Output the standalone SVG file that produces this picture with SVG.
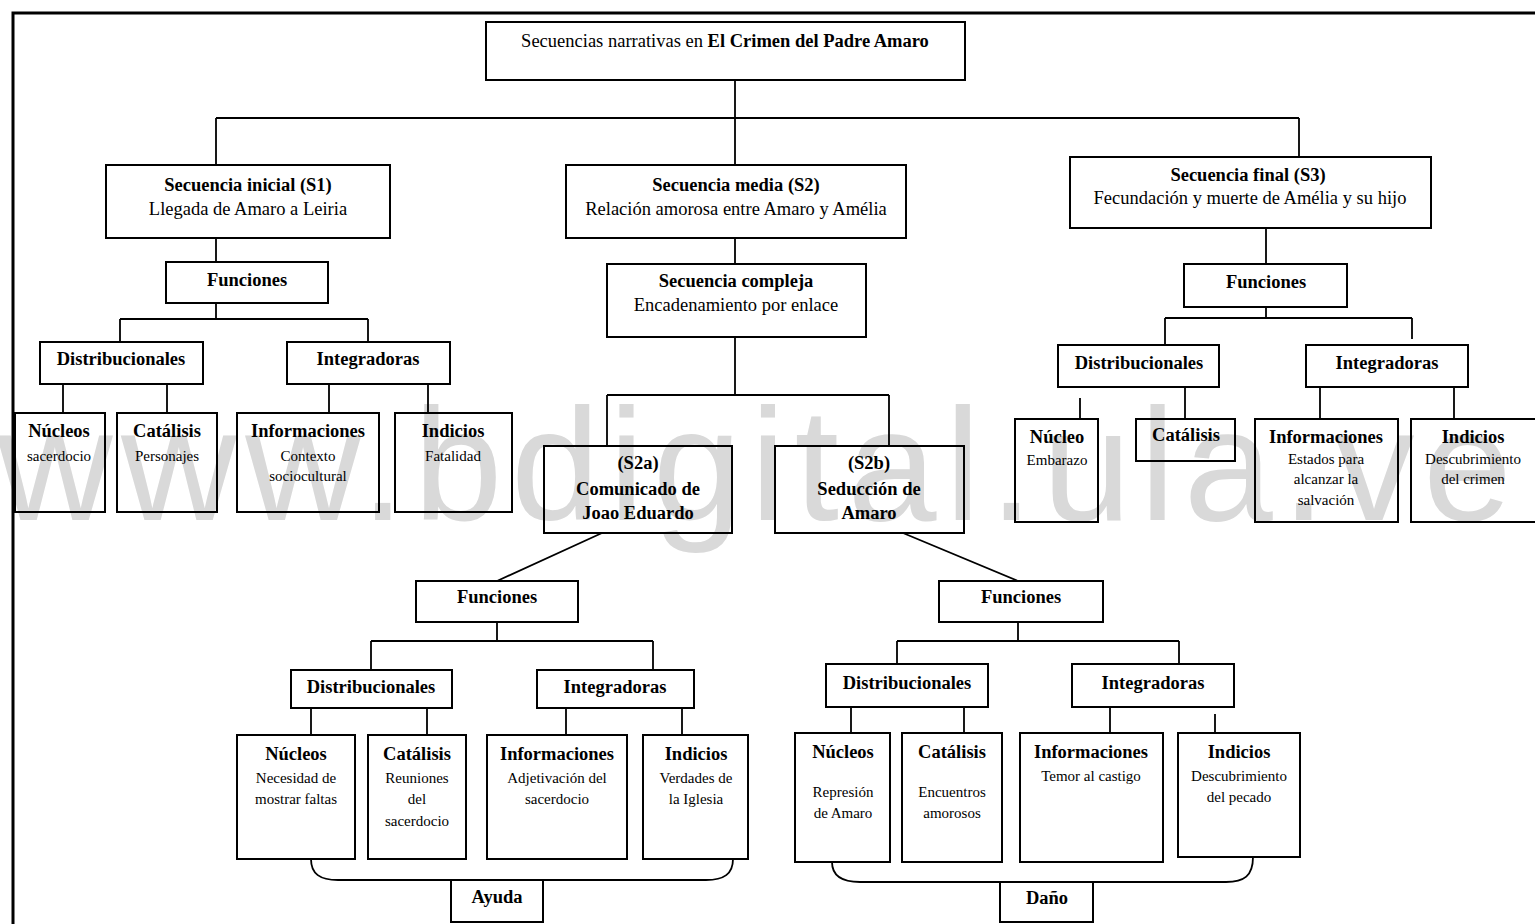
<svg xmlns="http://www.w3.org/2000/svg" width="1535" height="924" viewBox="0 0 1535 924">
<style>
.box{fill:none;stroke:#000;stroke-width:2}
.ln{fill:none;stroke:#000;stroke-width:1.8}
text{font-family:"Liberation Serif","Times New Roman",serif;text-anchor:middle;fill:#000}
.h{font-weight:bold;font-size:18.5px}
.m{font-size:18.5px}
.s{font-size:15px}
.wm{font-family:"Liberation Sans",Arial,sans-serif;font-size:160px;fill:#d9d9d9;text-anchor:start}
</style>
<rect x="0" y="0" width="1535" height="924" fill="#fff"/>
<text class="wm" x="-3" y="520" textLength="1515" lengthAdjust="spacing">www.bdigital.ula.ve</text>
<path d="M13,924 V13 H1535" fill="none" stroke="#000" stroke-width="3"/>
<g id="connectors">
<path class="ln" d="M735,80 V118 M216,118 H1299 M216,118 V165 M735,118 V165 M1299,118 V157"/>
<path class="ln" d="M216,238 V262 M216,303 V319 M120,319 H368 M120,319 V342 M368,319 V342 M63,384 V413 M167,384 V413 M329,384 V413 M428,384 V413"/>
<path class="ln" d="M735,238 V264 M735,337 V395 M607,395 H889 M607,395 V446 M889,395 V446 M602,533 L497,581 M903,533 L1018,581"/>
<path class="ln" d="M497,622 V641 M371,641 H653 M371,641 V670 M653,641 V670 M311,708 V735 M427,708 V735 M566,708 V735 M682,708 V735"/>
<path class="ln" d="M1018,622 V641 M897,641 H1179 M897,641 V664 M1179,641 V664 M851,707 V733 M964,707 V733 M1110,707 V733 M1215,714 V733"/>
<path class="ln" d="M1266,228 V264 M1266,307 V318 M1165,318 H1412 M1165,318 V345 M1412,318 V339 M1080,398 V419 M1185,387 V419 M1320,387 V419 M1454,387 V419"/>
<path class="ln" d="M311,859 C311,874 320,880 338,880 L706,880 C724,880 733,874 733,859"/>
<path class="ln" d="M832,862 C832,876 842,882 860,882 L1226,882 C1244,882 1253,876 1253,857"/>
</g>
<g id="title"><rect class="box" x="486" y="22" width="479" height="58"/><text class="m" x="725" y="47">Secuencias narrativas en <tspan font-weight="bold">El Crimen del Padre Amaro</tspan></text></g>
<g id="s1"><rect class="box" x="106" y="165" width="284" height="73"/><text class="h" x="248" y="191">Secuencia inicial (S1)</text><text class="m" x="248" y="215">Llegada de Amaro a Leiria</text></g>
<g id="s1-funciones"><rect class="box" x="166" y="262" width="162" height="41"/><text class="h" x="247" y="286">Funciones</text></g>
<g id="s1-distribucionales"><rect class="box" x="40" y="342" width="163" height="42"/><text class="h" x="121" y="365">Distribucionales</text></g>
<g id="s1-integradoras"><rect class="box" x="287" y="342" width="163" height="42"/><text class="h" x="368" y="365">Integradoras</text></g>
<g id="s1-nucleos"><rect class="box" x="15" y="413" width="90" height="99"/><text class="h" x="59" y="437">Núcleos</text><text class="s" x="59" y="461">sacerdocio</text></g>
<g id="s1-catalisis"><rect class="box" x="117" y="413" width="100" height="99"/><text class="h" x="167" y="437">Catálisis</text><text class="s" x="167" y="461">Personajes</text></g>
<g id="s1-informaciones"><rect class="box" x="237" y="413" width="142" height="99"/><text class="h" x="308" y="437">Informaciones</text><text class="s" x="308" y="461">Contexto</text><text class="s" x="308" y="481">sociocultural</text></g>
<g id="s1-indicios"><rect class="box" x="395" y="413" width="117" height="99"/><text class="h" x="453" y="437">Indicios</text><text class="s" x="453" y="461">Fatalidad</text></g>
<g id="s2"><rect class="box" x="566" y="165" width="340" height="73"/><text class="h" x="736" y="191">Secuencia media (S2)</text><text class="m" x="736" y="215">Relación amorosa entre Amaro y Amélia</text></g>
<g id="s2-compleja"><rect class="box" x="607" y="264" width="259" height="73"/><text class="h" x="736" y="287">Secuencia compleja</text><text class="m" x="736" y="311">Encadenamiento por enlace</text></g>
<g id="s2a"><rect class="box" x="544" y="446" width="188" height="87"/><text class="h" x="638" y="469">(S2a)</text><text class="h" x="638" y="495">Comunicado de</text><text class="h" x="638" y="519">Joao Eduardo</text></g>
<g id="s2b"><rect class="box" x="775" y="446" width="189" height="87"/><text class="h" x="869" y="469">(S2b)</text><text class="h" x="869" y="495">Seducción de</text><text class="h" x="869" y="519">Amaro</text></g>
<g id="s2a-funciones"><rect class="box" x="416" y="581" width="162" height="41"/><text class="h" x="497" y="603">Funciones</text></g>
<g id="s2a-distribucionales"><rect class="box" x="291" y="670" width="161" height="38"/><text class="h" x="371" y="693">Distribucionales</text></g>
<g id="s2a-integradoras"><rect class="box" x="537" y="670" width="157" height="38"/><text class="h" x="615" y="693">Integradoras</text></g>
<g id="s2a-nucleos"><rect class="box" x="237" y="735" width="118" height="124"/><text class="h" x="296" y="760">Núcleos</text><text class="s" x="296" y="783">Necesidad de</text><text class="s" x="296" y="804">mostrar faltas</text></g>
<g id="s2a-catalisis"><rect class="box" x="368" y="735" width="98" height="124"/><text class="h" x="417" y="760">Catálisis</text><text class="s" x="417" y="783">Reuniones</text><text class="s" x="417" y="804">del</text><text class="s" x="417" y="826">sacerdocio</text></g>
<g id="s2a-informaciones"><rect class="box" x="487" y="735" width="140" height="124"/><text class="h" x="557" y="760">Informaciones</text><text class="s" x="557" y="783">Adjetivación del</text><text class="s" x="557" y="804">sacerdocio</text></g>
<g id="s2a-indicios"><rect class="box" x="643" y="735" width="105" height="124"/><text class="h" x="696" y="760">Indicios</text><text class="s" x="696" y="783">Verdades de</text><text class="s" x="696" y="804">la Iglesia</text></g>
<g id="ayuda"><rect class="box" x="451" y="880" width="92" height="42"/><text class="h" x="497" y="903">Ayuda</text></g>
<g id="s2b-funciones"><rect class="box" x="939" y="581" width="164" height="41"/><text class="h" x="1021" y="603">Funciones</text></g>
<g id="s2b-distribucionales"><rect class="box" x="826" y="664" width="162" height="43"/><text class="h" x="907" y="689">Distribucionales</text></g>
<g id="s2b-integradoras"><rect class="box" x="1072" y="664" width="162" height="43"/><text class="h" x="1153" y="689">Integradoras</text></g>
<g id="s2b-nucleos"><rect class="box" x="795" y="733" width="95" height="129"/><text class="h" x="843" y="758">Núcleos</text><text class="s" x="843" y="797">Represión</text><text class="s" x="843" y="818">de Amaro</text></g>
<g id="s2b-catalisis"><rect class="box" x="902" y="733" width="100" height="129"/><text class="h" x="952" y="758">Catálisis</text><text class="s" x="952" y="797">Encuentros</text><text class="s" x="952" y="818">amorosos</text></g>
<g id="s2b-informaciones"><rect class="box" x="1020" y="733" width="143" height="129"/><text class="h" x="1091" y="758">Informaciones</text><text class="s" x="1091" y="781">Temor al castigo</text></g>
<g id="s2b-indicios"><rect class="box" x="1178" y="733" width="122" height="124"/><text class="h" x="1239" y="758">Indicios</text><text class="s" x="1239" y="781">Descubrimiento</text><text class="s" x="1239" y="802">del pecado</text></g>
<g id="dano"><rect class="box" x="1000" y="882" width="93" height="40"/><text class="h" x="1047" y="904">Daño</text></g>
<g id="s3"><rect class="box" x="1070" y="157" width="361" height="71"/><text class="h" x="1248" y="181">Secuencia final (S3)</text><text class="m" x="1250" y="204">Fecundación y muerte de Amélia y su hijo</text></g>
<g id="s3-funciones"><rect class="box" x="1184" y="264" width="163" height="43"/><text class="h" x="1266" y="288">Funciones</text></g>
<g id="s3-distribucionales"><rect class="box" x="1058" y="345" width="161" height="42"/><text class="h" x="1139" y="369">Distribucionales</text></g>
<g id="s3-integradoras"><rect class="box" x="1306" y="345" width="162" height="42"/><text class="h" x="1387" y="369">Integradoras</text></g>
<g id="s3-nucleo"><rect class="box" x="1015" y="419" width="83" height="103"/><text class="h" x="1057" y="443">Núcleo</text><text class="s" x="1057" y="465">Embarazo</text></g>
<g id="s3-catalisis"><rect class="box" x="1136" y="419" width="99" height="42"/><text class="h" x="1186" y="441">Catálisis</text></g>
<g id="s3-informaciones"><rect class="box" x="1255" y="419" width="143" height="103"/><text class="h" x="1326" y="443">Informaciones</text><text class="s" x="1326" y="464">Estados para</text><text class="s" x="1326" y="484">alcanzar la</text><text class="s" x="1326" y="505">salvación</text></g>
<g id="s3-indicios"><rect class="box" x="1411" y="419" width="130" height="103"/><text class="h" x="1473" y="443">Indicios</text><text class="s" x="1473" y="464">Descubrimiento</text><text class="s" x="1473" y="484">del crimen</text></g>
</svg>
